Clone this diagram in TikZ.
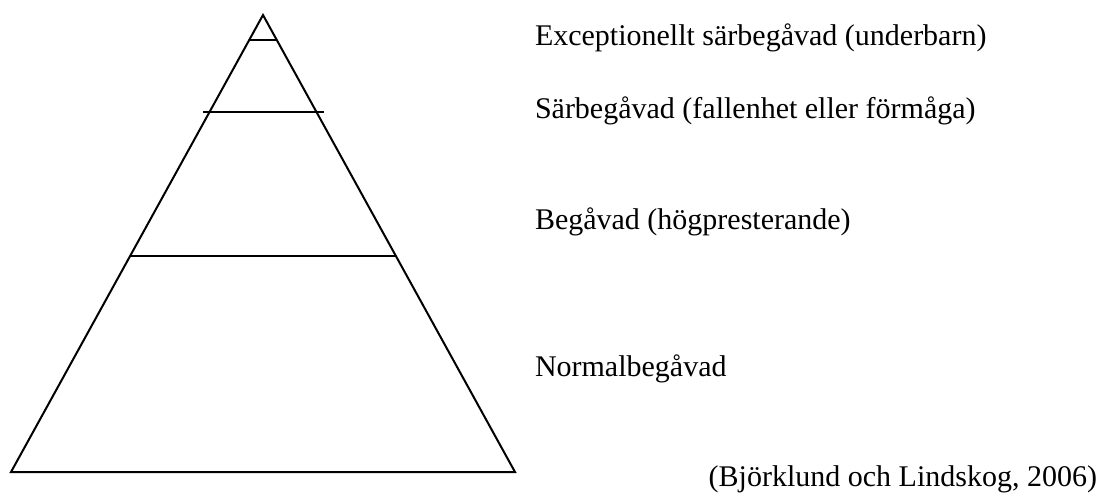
\documentclass[tikz,border=0pt]{standalone}
\usepackage{fontspec}
\setmainfont{Liberation Serif}
\begin{document}
\begin{tikzpicture}[x=0.5pt,y=-0.5pt,line width=1pt,
    level/.style={anchor=base west,inner sep=0pt,font=\fontsize{15}{18}\selectfont}]
  \useasboundingbox (0,0) rectangle (1102,495);
  % pyramid
  \coordinate (top) at (263,15);
  \coordinate (bl) at (11,472);
  \coordinate (br) at (515,472);
  \draw (top) -- (bl) -- (br) -- cycle;
  \draw (250,40) -- (277,40);
  \draw (203,112) -- (324,112);
  \draw (130,256) -- (396,256);
  % labels
  \node[level] (exc) at (534,45) {Exceptionellt särbegåvad (underbarn)};
  \node[level] (sar) at (534,118) {Särbegåvad (fallenhet eller förmåga)};
  \node[level] (beg) at (534,229) {Begåvad (högpresterande)};
  \node[level] (nor) at (534,376) {Normalbegåvad};
  \node[level,anchor=base east] (ref) at (1098,486) {(Björklund och Lindskog, 2006)};
\end{tikzpicture}
\end{document}
